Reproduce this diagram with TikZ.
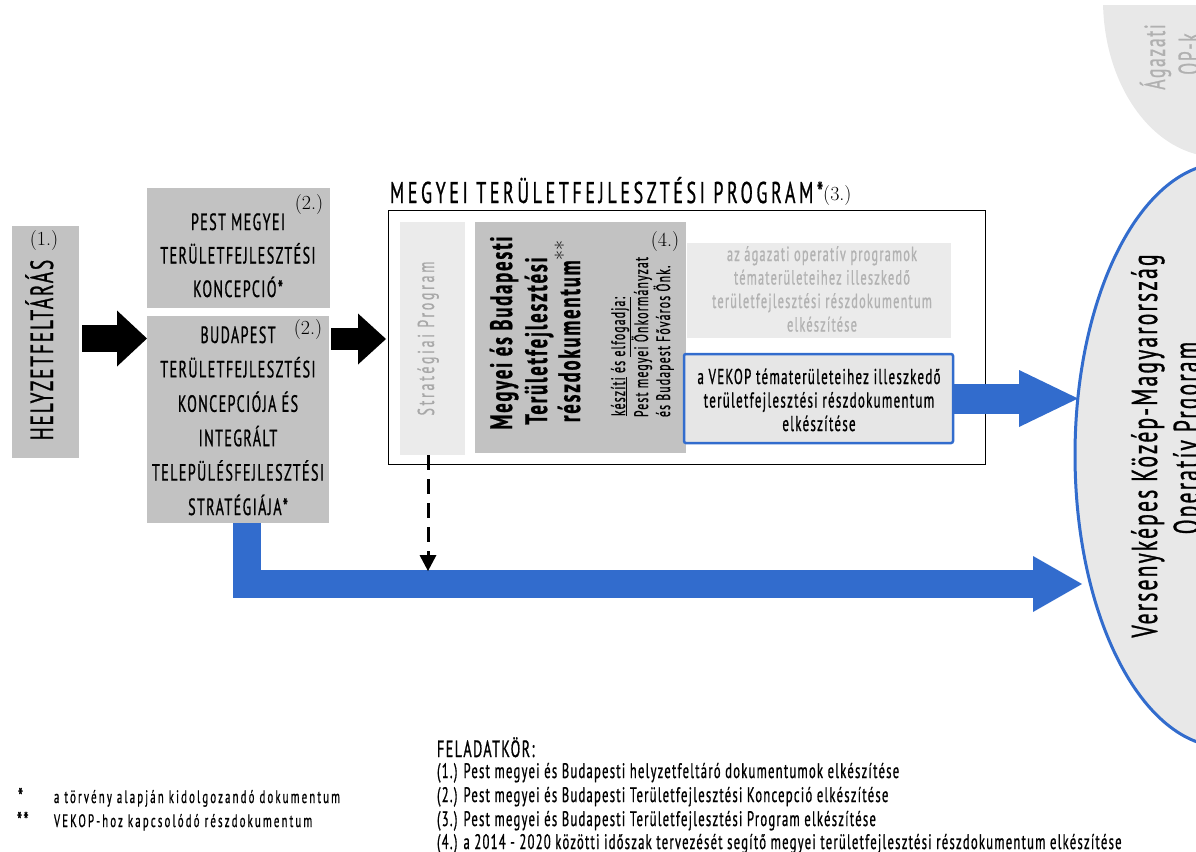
\documentclass[tikz,border=0pt]{standalone}
\usepackage{fontspec}
\newfontfamily\gs[FakeStretch=0.6,LetterSpace=6,FakeBold=0.8]{PT Sans}
\newfontfamily\gsw[FakeStretch=0.6,LetterSpace=12,FakeBold=0.8]{PT Sans}
\usetikzlibrary{shapes.geometric,arrows.meta}
\newcommand\myfs[1]{\fontsize{#1}{#1}\selectfont}
\definecolor{boxgray}{RGB}{194,194,194}
\definecolor{lightbox}{RGB}{235,235,235}
\definecolor{vekopfill}{RGB}{230,230,230}
\definecolor{ellfill}{RGB}{232,232,232}
\definecolor{vblue}{RGB}{50,108,205}
\definecolor{stratgray}{RGB}{168,168,168}
\definecolor{agazgray}{RGB}{178,178,178}
\definecolor{opgray}{RGB}{176,176,176}
\begin{document}
\begin{tikzpicture}[x=1pt,y=-1pt,
  box/.style={inner sep=0pt,outer sep=0pt,draw=none},
  graybox/.style={box,fill=boxgray},
  lightbox/.style={box,fill=lightbox},
  txt/.style={inner sep=0pt,outer sep=0pt,anchor=base},
  rtxt/.style={txt,rotate=90},
  capsbox/.style={txt,font=\gs\myfs{23.5}},
  serifnum/.style={inner sep=0pt,font=\rmfamily\myfs{20}},
  blackarrow/.style={draw=black},
  bluearrow/.style={draw=vblue,line join=miter},
]
\useasboundingbox (0,0) rectangle (1196,851);

% top-right sectoral OP ellipse (clipped)
\begin{scope}
  \clip (1000,6) rectangle (1196,300);
  \node[ellipse,fill=ellfill,draw=none,minimum width=230,minimum height=314] (opk) at (1218,0) {};
\end{scope}
\node[rtxt,font=\gs\myfs{29},text=opgray] (opk1) at (1165,57) {Ágazati};
\node[rtxt,font=\gs\myfs{29},text=opgray] (opk2) at (1199,54) {OP-k};

% main ellipse
\node[ellipse,fill=ellfill,draw=vblue,line width=3pt,minimum width=300,minimum height=584] (vekopell) at (1225,455) {};
\node[rtxt,font=\gs\myfs{36}] (ell1) at (1157,446) {Versenyképes Közép-Magyarország};
\node[rtxt,font=\gs\myfs{36}] (ell2) at (1199,438) {Operatív Prgoram};

% left boxes
\node[graybox,minimum width=67,minimum height=232] (box1) at (45.5,342) {};
\node[rtxt,font=\gs\myfs{32}] (t1) at (53,350) {HELYZETFELTÁRÁS};
\node[serifnum] (n1) at (44,241) {(1.)};

\node[graybox,minimum width=183,minimum height=120] (box2) at (238.5,248) {};
\node[capsbox] (p1) at (238,230) {PEST MEGYEI};
\node[capsbox] (p2) at (238,263.5) {TERÜLETFEJLESZTÉSI};
\node[capsbox] (p3) at (238,297) {KONCEPCIÓ*};
\node[serifnum] (n2a) at (309,205) {(2.)};

\node[graybox,minimum width=182,minimum height=207] (box3) at (238,419.5) {};
\node[capsbox] (b1) at (238,343) {BUDAPEST};
\node[capsbox] (b2) at (238,377.4) {TERÜLETFEJLESZTÉSI};
\node[capsbox] (b3) at (238,411.8) {KONCEPCIÓJA ÉS};
\node[capsbox] (b4) at (238,446.2) {INTEGRÁLT};
\node[capsbox] (b5) at (238,480.6) {TELEPÜLÉSFEJLESZTÉSI};
\node[capsbox] (b6) at (238,515) {STRATÉGIÁJA*};
\node[serifnum] (n2b) at (308,330) {(2.)};

% program frame
\node[box,draw=black,line width=1pt,minimum width=597,minimum height=254] (frame) at (686.5,337) {};
\node[txt,anchor=base west,font=\gsw\myfs{30}] (title) at (390,203) {MEGYEI TERÜLETFEJLESZTÉSI PROGRAM*\raisebox{3pt}{\rmfamily\myfs{20}(3.)}};

\node[lightbox,minimum width=65,minimum height=233] (strat) at (432.5,338.5) {};
\node[rtxt,font=\gsw\myfs{23},text=stratgray] (strattxt) at (434,338.5) {Stratégiai Program};

\node[graybox,minimum width=211,minimum height=231] (megy) at (580.5,337.5) {};
\node[rtxt,font=\gs\bfseries\myfs{31}] (m1) at (512,333) {Megyei és Budapesti};
\node[rtxt,font=\gs\bfseries\myfs{31}] (m2) at (547,341) {Területfejlesztési};
\node[rtxt,font=\gs\bfseries\myfs{31}] (m3) at (580,331) {részdokumentum\textsuperscript{\rmfamily\mdseries **}};
\node[rtxt,anchor=base west,font=\gs\myfs{19.5}] (k1) at (625,416) {\underline{készíti} és \underline{elfogadja:}};
\node[rtxt,anchor=base west,font=\gs\myfs{19.5}] (k2) at (648,417) {Pest megyei Önkormányzat};
\node[rtxt,anchor=base west,font=\gs\myfs{19.5}] (k3) at (670,417) {és Budapest Főváros Önk.};
\node[serifnum] (n4) at (665,242) {(4.)};

\node[lightbox,minimum width=264,minimum height=95] (agaz) at (819,290.5) {};
\node[txt,font=\gs\myfs{20.5},text=agazgray] (a1) at (822,261) {az ágazati operatív programok};
\node[txt,font=\gs\myfs{20.5},text=agazgray] (a2) at (822,284.5) {tématerületeihez illeszkedő};
\node[txt,font=\gs\myfs{20.5},text=agazgray] (a3) at (822,308) {területfejlesztési részdokumentum};
\node[txt,font=\gs\myfs{20.5},text=agazgray] (a4) at (822,331.5) {elkészítése};

\node[box,fill=vekopfill,draw=vblue,line width=2.5pt,rounded corners=2pt,minimum width=269,minimum height=89] (vekop) at (818.5,398.5) {};
\node[txt,font=\gs\myfs{21.5}] (v1) at (819,384) {a VEKOP tématerületeihez illeszkedő};
\node[txt,font=\gs\myfs{21.5}] (v2) at (819,407.5) {területfejlesztési részdokumentum};
\node[txt,font=\gs\myfs{21.5}] (v3) at (819,431) {elkészítése};

% connectors
\coordinate (s1) at (82,338.5);
\draw[blackarrow,line width=27pt,-{Triangle[length=30pt,width=56pt,line width=0pt]}] (s1) -- (box3.west |- s1);
\coordinate (s2) at (331,339);
\draw[blackarrow,line width=22pt,shorten >=2pt,-{Triangle[length=28pt,width=51pt,line width=0pt]}] (s2) -- (frame.west |- s2);

\coordinate (tipA) at (1078,398.5);
\draw[bluearrow,line width=30pt,-{Triangle[length=59pt,width=57pt,line width=0pt]}] (vekop.east) -- (tipA);
\coordinate (tipB) at (1082,584);
\draw[bluearrow,line width=28pt,-{Triangle[length=49pt,width=56pt,line width=0pt]}] ([xshift=9pt]box3.south) |- (tipB);

\coordinate (dashend) at (428,571);
\draw[line width=3pt,dash pattern=on 15pt off 9pt,-{Triangle[length=16pt,width=17pt,line width=0pt]}] (strat.south -| dashend) -- (dashend);

% legend
\node[txt,anchor=base west,font=\gs\myfs{24}] (st1) at (18,805) {*};
\node[txt,anchor=base west,font=\gsw\myfs{18}] (l1) at (54,803) {a törvény alapján kidolgozandó dokumentum};
\node[txt,anchor=base west,font=\gs\myfs{24}] (st2) at (17,829) {**};
\node[txt,anchor=base west,font=\gsw\myfs{18}] (l2) at (54,827) {VEKOP-hoz kapcsolódó részdokumentum};

\node[txt,anchor=base west,font=\gs\myfs{23.5}] (fel) at (437,757) {FELADATKÖR:};
\node[txt,anchor=base west,font=\gs\myfs{21}] (f1) at (437,778) {(1.) Pest megyei és Budapesti helyzetfeltáró dokumentumok elkészítése};
\node[txt,anchor=base west,font=\gs\myfs{21}] (f2) at (437,802) {(2.) Pest megyei és Budapesti Területfejlesztési Koncepció elkészítése};
\node[txt,anchor=base west,font=\gs\myfs{21}] (f3) at (437,826) {(3.) Pest megyei és Budapesti Területfejlesztési Program elkészítése};
\node[txt,anchor=base west,font=\gs\myfs{21}] (f4) at (437,849) {(4.) a 2014 - 2020 közötti időszak tervezését segítő megyei területfejlesztési részdokumentum elkészítése};
\end{tikzpicture}
\end{document}
